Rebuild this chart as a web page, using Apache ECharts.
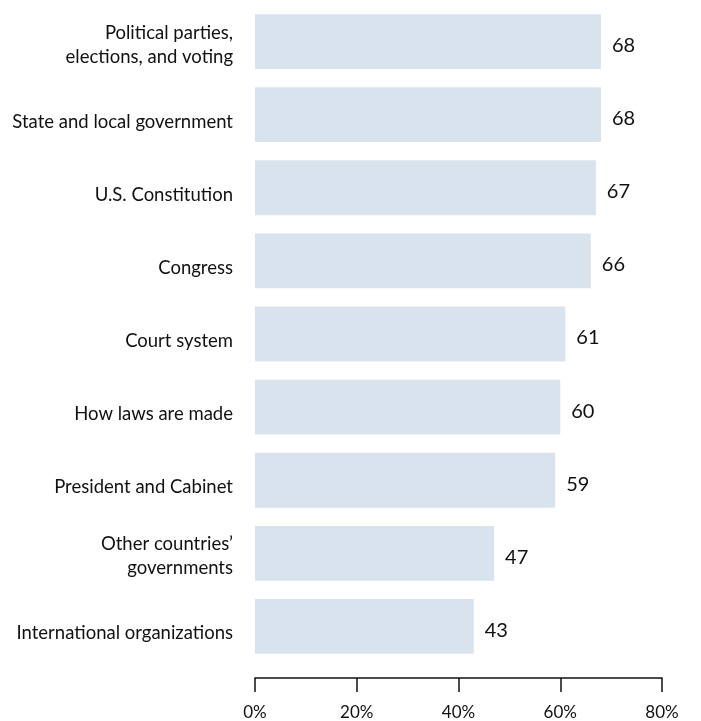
<!DOCTYPE html>
<html><head><meta charset="utf-8">
<script src="https://cdn.jsdelivr.net/npm/echarts@6/dist/echarts.min.js"></script>
<style>html,body{margin:0;padding:0;background:#fff}#c{width:701px;height:721px}</style>
</head><body><div id="c"></div>
<script>
const categories = [
  "Political parties,\nelections, and voting",
  "State and local government",
  "U.S. Constitution",
  "Congress",
  "Court system",
  "How laws are made",
  "President and Cabinet",
  "Other countries’\ngovernments",
  "International organizations"
];
const values = [68, 68, 67, 66, 61, 60, 59, 47, 43];
const xTicks = [0, 20, 40, 60, 80];

const FONT = 'Lato';
const chart = echarts.init(document.getElementById('c'), null, {renderer: 'canvas'});
chart.setOption({
  animation: false,
  textStyle: {fontFamily: FONT},
  grid: {left: 255, right: 39, top: 5, bottom: 58, containLabel: false},
  xAxis: {
    type: 'value', min: xTicks[0], max: xTicks[xTicks.length - 1], interval: 20,
    offset: 15,
    axisLine: {show: true, lineStyle: {color: '#111', width: 1.5}},
    axisTick: {show: true, inside: false, length: 14, lineStyle: {color: '#111', width: 1.5}},
    axisLabel: {formatter: '{value}%', color: '#111', fontSize: 17, margin: 26, fontFamily: FONT},
    splitLine: {show: false}
  },
  yAxis: {
    type: 'category', data: categories, inverse: true,
    axisLine: {show: false}, axisTick: {show: false},
    axisLabel: {
      color: '#111', fontSize: 18.5, margin: 22, lineHeight: 24, fontFamily: FONT,
      padding: [6, 0, 0, 0],
      formatter: function (v) {
        return v.indexOf('\n') >= 0 ? v : '{s|' + v + '}';
      },
      rich: {s: {fontSize: 18.5, fontFamily: FONT, color: '#111', padding: [8, 0, 0, 0]}}
    }
  },
  series: [{
    type: 'bar', data: values, barCategoryGap: '25%',
    itemStyle: {color: '#d9e3ee'},
    label: {show: true, position: 'right', distance: 11, offset: [0, 4], color: '#111', fontSize: 20, fontFamily: FONT}
  }]
});
</script></body></html>
